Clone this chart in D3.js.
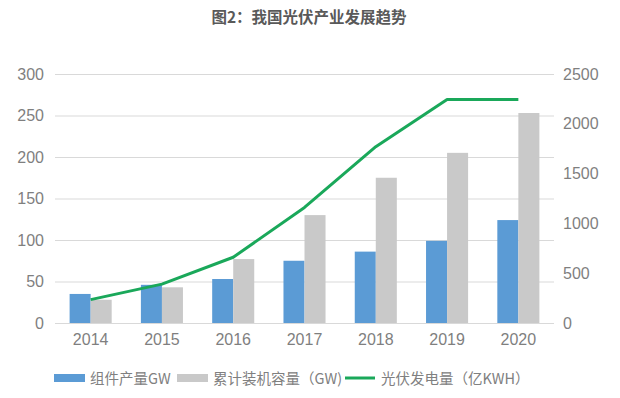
<!DOCTYPE html>
<html><head><meta charset="utf-8">
<script src="https://cdn.jsdelivr.net/npm/d3@7"></script>
<style>body{margin:0;background:#fff;}svg{display:block;font-family:"Noto Sans CJK SC","Liberation Sans",Arial,sans-serif;}</style>
</head><body>
<script>
const years = ["2014","2015","2016","2017","2018","2019","2020"];
const moduleOutput = [35, 46, 53, 75, 86, 99, 124];
const installed = [28, 43, 77, 130, 175, 205, 253];
const generation = [235, 390, 660, 1160, 1770, 2245, 2245];
const leftTicks = [0,50,100,150,200,250,300];
const rightTicks = [0,500,1000,1500,2000,2500];
const legendLabels = ["组件产量GW","累计装机容量（GW)","光伏发电量（亿KWH）"];

(function(){
const W=620,H=398;
const svg=d3.select("body").append("svg").attr("width",W).attr("height",H);
const pL=55,pR=554,pT=74,pB=323;
const x=d3.scaleBand().domain(years).range([pL,pR]).paddingInner(0.41).paddingOuter(0.205);
const yL=d3.scaleLinear().domain([0,300]).range([pB,pT]);
const yR=d3.scaleLinear().domain([0,2500]).range([pB,pT]);
const colors={blue:"#5b9bd5",gray:"#c9c9c9",green:"#1aa85a"};

svg.append("text").attr("x",309).attr("y",23).attr("text-anchor","middle")
  .attr("font-size",15.5).attr("font-weight","bold").attr("fill","#595959").text("图2：我国光伏产业发展趋势");

svg.append("g").selectAll("line").data(leftTicks).join("line")
  .attr("x1",pL).attr("x2",pR).attr("y1",d=>yL(d)+0.5).attr("y2",d=>yL(d)+0.5)
  .attr("stroke","#d9d9d9").attr("stroke-width",1);

const axL=svg.append("g").attr("transform",`translate(${pL-11},0)`)
  .call(d3.axisLeft(yL).tickValues(leftTicks).tickSize(0).tickPadding(0).tickFormat(d3.format("d")));
const axR=svg.append("g").attr("transform",`translate(${pR+9},0)`)
  .call(d3.axisRight(yR).tickValues(rightTicks).tickSize(0).tickPadding(0).tickFormat(d3.format("d")));
const axB=svg.append("g").attr("transform",`translate(0,${pB+8})`)
  .call(d3.axisBottom(x).tickSize(0).tickPadding(0));
[axL,axR,axB].forEach(a=>{a.select(".domain").remove();
  a.attr("font-size",16).attr("font-family","Liberation Sans, Arial, sans-serif");
  a.selectAll("text").attr("fill","#7f7f7f");});
axB.selectAll("text").attr("dy","0.85em");

const bw=x.bandwidth()/2;
svg.append("g").selectAll("rect").data(years).join("rect")
  .attr("x",d=>x(d)).attr("width",bw).attr("y",(d,i)=>yL(moduleOutput[i])).attr("height",(d,i)=>pB-yL(moduleOutput[i]))
  .attr("fill",colors.blue);
svg.append("g").selectAll("rect").data(years).join("rect")
  .attr("x",d=>x(d)+bw).attr("width",bw).attr("y",(d,i)=>yL(installed[i])).attr("height",(d,i)=>pB-yL(installed[i]))
  .attr("fill",colors.gray);

const line=d3.line().x((d,i)=>x(years[i])+x.bandwidth()/2).y(d=>yR(d));
svg.append("path").datum(generation).attr("d",line).attr("fill","none")
  .attr("stroke",colors.green).attr("stroke-width",3).attr("stroke-linejoin","round");

const lg=svg.append("g");
const items=[{x:54,type:"rect",c:colors.blue},{x:177,type:"rect",c:colors.gray},{x:345,type:"line",c:colors.green}];
items.forEach((it,i)=>{
  if(it.type==="rect") lg.append("rect").attr("x",it.x).attr("y",374).attr("width",31).attr("height",8).attr("fill",it.c);
  else lg.append("line").attr("x1",it.x).attr("x2",it.x+30).attr("y1",378).attr("y2",378).attr("stroke",it.c).attr("stroke-width",3);
  lg.append("text").attr("x",it.x+36).attr("y",383.5).attr("font-size",14.5).attr("fill","#808080").text(legendLabels[i]);
});
})();
</script>
</body></html>
